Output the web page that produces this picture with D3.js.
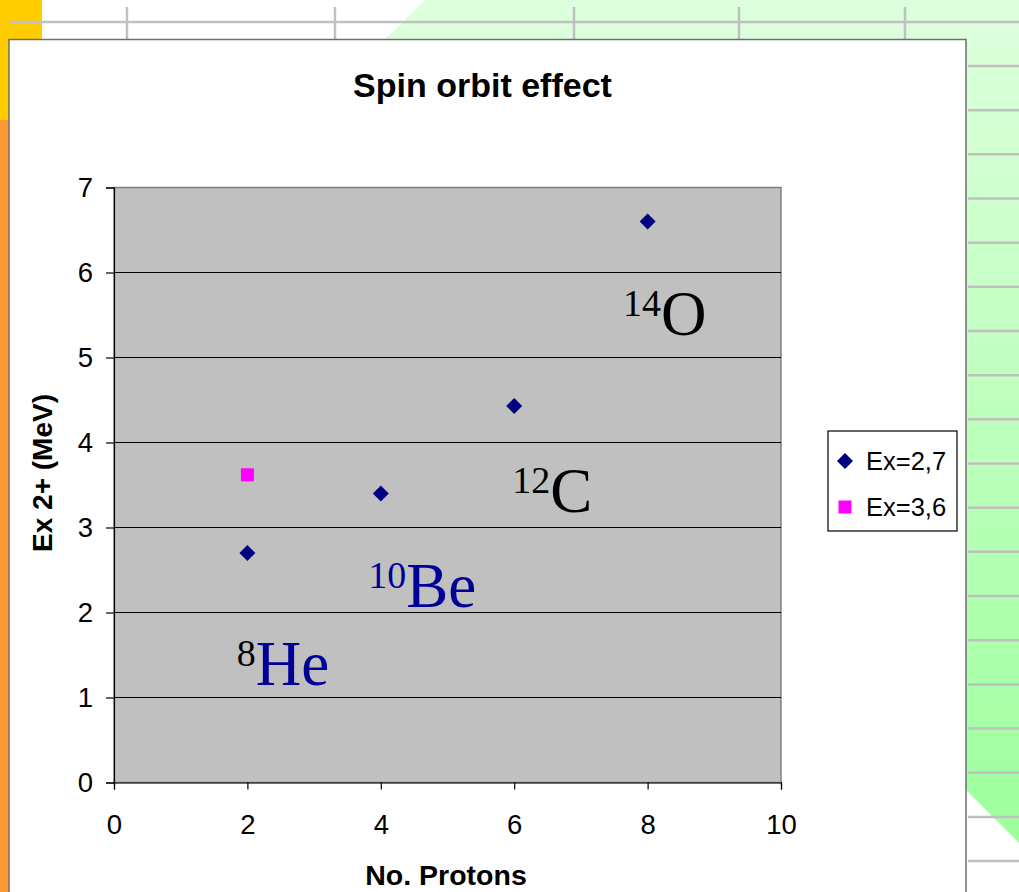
<!DOCTYPE html>
<html>
<head>
<meta charset="utf-8">
<script src="https://cdn.jsdelivr.net/npm/d3@7"></script>
<style>
  html, body { margin: 0; padding: 0; background: #fff; }
  svg { display: block; }
</style>
</head>
<body>
<div id="chart"></div>
<script>
// data
var protons = [2, 4, 6, 8];
var ex27 = [2.7, 3.4, 4.43, 6.6];
var protons36 = [2];
var ex36 = [3.62];
var xTicks = [0, 2, 4, 6, 8, 10];
var yTicks = [0, 1, 2, 3, 4, 5, 6, 7];
var seriesNames = ["Ex=2,7", "Ex=3,6"];
// nuclide labels, anchored in data units
var nucMass = ["8", "10", "12", "14"];
var nucSymbol = ["He", "Be", "C", "O"];
var nucX = [1.84, 3.81, 5.97, 7.63];
var nucY = [1.15, 2.06, 3.18, 5.26];

var W = 1019, H = 892;
var margin = {top: 187.5, right: 238, bottom: 109.5, left: 114};
var navy = "#000080";

var svg = d3.select("#chart").append("svg")
    .attr("width", W)
    .attr("height", H);

// slide background bits
var defs = svg.append("defs");
var grad = defs.append("linearGradient")
    .attr("id", "greenGrad")
    .attr("gradientUnits", "userSpaceOnUse")
    .attr("x1", 0).attr("y1", 0).attr("x2", 0).attr("y2", 843);
grad.append("stop").attr("offset", "0%").attr("stop-color", "#ddffdd");
grad.append("stop").attr("offset", "100%").attr("stop-color", "#9eff9e");

svg.append("path")
    .attr("d", "M425,0 L1019,0 L1019,843 L300,124 Z")
    .attr("fill", "url(#greenGrad)");

svg.append("rect").attr("x", 0).attr("y", 0).attr("width", 9).attr("height", H).attr("fill", "#ff9933");
svg.append("rect").attr("x", 0).attr("y", 0).attr("width", 9).attr("height", 120).attr("fill", "#ffcc00");
svg.append("rect").attr("x", 0).attr("y", 0).attr("width", 42).attr("height", 39).attr("fill", "#ffcc00");

var deco = svg.append("g").attr("stroke", "#c0c0c0").attr("stroke-width", 2.5);
deco.append("line").attr("x1", 9).attr("x2", W).attr("y1", 22).attr("y2", 22);
[127, 335, 574, 739, 905].forEach(function(x) {
  deco.append("line").attr("x1", x).attr("x2", x).attr("y1", 7).attr("y2", 39);
});
d3.range(19).forEach(function(i) {
  var y = 66 + i * 44.17;
  deco.append("line").attr("x1", 968).attr("x2", W).attr("y1", y).attr("y2", y);
});

// chart panel
svg.append("rect")
    .attr("x", 9).attr("y", 39.5)
    .attr("width", 957).attr("height", H)
    .attr("fill", "#fff")
    .attr("stroke", "#6e6e6e")
    .attr("stroke-width", 1.5);

var width = W - margin.left - margin.right,
    height = H - margin.top - margin.bottom;

var x = d3.scaleLinear().domain([0, 10]).range([0, width]);
var y = d3.scaleLinear().domain([0, 7]).range([height, 0]);

var g = svg.append("g")
    .attr("transform", "translate(" + margin.left + "," + margin.top + ")");

g.append("rect")
    .attr("width", x(10)).attr("height", y(0))
    .attr("fill", "#c0c0c0")
    .attr("stroke", "#808080")
    .attr("stroke-width", 1.5);

g.append("g")
    .selectAll("line")
    .data(yTicks.filter(function(d) { return d > 0 && d < 7; }))
    .enter().append("line")
    .attr("x1", 0).attr("x2", x(10))
    .attr("y1", function(d) { return y(d); })
    .attr("y2", function(d) { return y(d); })
    .attr("stroke", "#000")
    .attr("stroke-width", 1.2);

var yAxis = d3.axisLeft(y).tickValues(yTicks).tickFormat(d3.format("d")).tickSize(8).tickPadding(13);
var xAxis = d3.axisBottom(x).tickValues(xTicks).tickFormat(d3.format("d")).tickSize(7).tickPadding(25);

var ya = g.append("g").call(yAxis);
var xa = g.append("g").attr("transform", "translate(0," + y(0) + ")").call(xAxis);

[ya, xa].forEach(function(a) {
  a.select(".domain").attr("stroke", "#000").attr("stroke-width", 1.2);
  a.selectAll(".tick line").attr("stroke", "#000").attr("stroke-width", 1.2);
  a.selectAll(".tick text")
    .attr("fill", "#000")
    .style("font-family", "'Liberation Sans', Arial, sans-serif")
    .style("font-size", "27.5px");
});

// nuclide labels
nucSymbol.forEach(function(sym, i) {
  var supColor = i === 1 ? "#000099" : "#000";
  var symColor = i < 2 ? "#000099" : "#000";
  var t = g.append("text")
      .attr("x", x(nucX[i]))
      .attr("y", y(nucY[i]))
      .style("font-family", "'Liberation Serif', 'Times New Roman', serif");
  t.append("tspan")
      .attr("dy", -19)
      .attr("fill", supColor)
      .style("font-size", "38px")
      .text(nucMass[i]);
  t.append("tspan")
      .attr("dy", 19)
      .attr("fill", symColor)
      .style("font-size", "63px")
      .text(sym);
});

// points
var diamond = d3.symbol().type(d3.symbolSquare).size(128);
var square = d3.symbol().type(d3.symbolSquare).size(169);

g.selectAll(".pt27")
    .data(protons.map(function(p, i) { return [p, ex27[i]]; }))
    .enter().append("path")
    .attr("d", diamond)
    .attr("transform", function(d) { return "translate(" + x(d[0]) + "," + y(d[1]) + ") rotate(45)"; })
    .attr("fill", navy);

g.selectAll(".pt36")
    .data(protons36.map(function(p, i) { return [p, ex36[i]]; }))
    .enter().append("path")
    .attr("d", square)
    .attr("transform", function(d) { return "translate(" + x(d[0]) + "," + y(d[1]) + ")"; })
    .attr("fill", "#ff00ff");

// titles
svg.append("text")
    .attr("x", 482.5).attr("y", 97)
    .attr("text-anchor", "middle")
    .style("font-family", "'Liberation Sans', Arial, sans-serif")
    .style("font-size", "34px").style("font-weight", "bold")
    .text("Spin orbit effect");

svg.append("text")
    .attr("transform", "translate(52,473) rotate(-90)")
    .attr("text-anchor", "middle")
    .style("font-family", "'Liberation Sans', Arial, sans-serif")
    .style("font-size", "28px").style("font-weight", "bold")
    .text("Ex 2+ (MeV)");

svg.append("text")
    .attr("x", 446).attr("y", 885)
    .attr("text-anchor", "middle")
    .style("font-family", "'Liberation Sans', Arial, sans-serif")
    .style("font-size", "28.5px").style("font-weight", "bold")
    .text("No. Protons");

// legend
var leg = svg.append("g").attr("transform", "translate(828,431)");
leg.append("rect")
    .attr("width", 129).attr("height", 100)
    .attr("fill", "#fff").attr("stroke", "#000").attr("stroke-width", 1.2);
var legItems = leg.selectAll(".li")
    .data(seriesNames)
    .enter().append("g")
    .attr("transform", function(d, i) { return "translate(0," + (30 + i * 46) + ")"; });
legItems.append("path")
    .attr("d", function(d, i) { return i === 0 ? diamond() : square(); })
    .attr("transform", function(d, i) { return "translate(17,0)" + (i === 0 ? " rotate(45)" : ""); })
    .attr("fill", function(d, i) { return i === 0 ? navy : "#ff00ff"; });
legItems.append("text")
    .attr("x", 38).attr("y", 8.5)
    .style("font-family", "'Liberation Sans', Arial, sans-serif")
    .style("font-size", "25.5px")
    .text(function(d) { return d; });
</script>
</body>
</html>
